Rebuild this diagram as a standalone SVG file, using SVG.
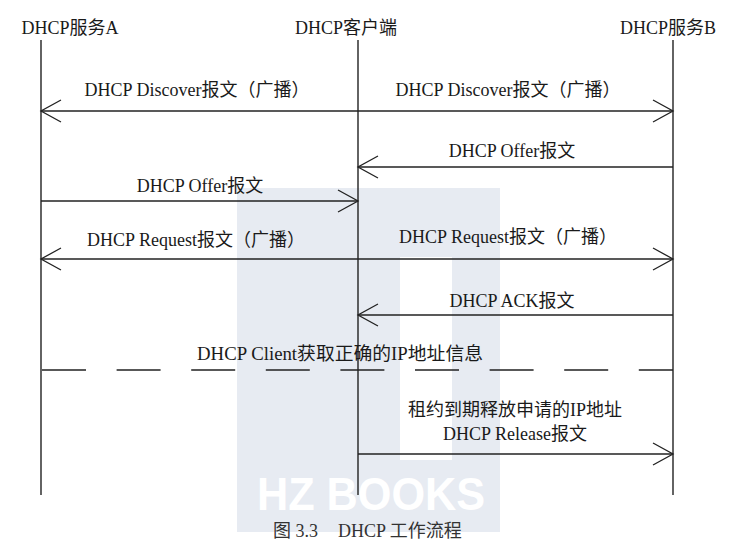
<svg xmlns="http://www.w3.org/2000/svg" width="751" height="545" viewBox="0 0 751 545">
<style>
text{font-family:"Liberation Serif","Noto Sans CJK SC",serif;font-size:18px;fill:#1a1a1a}
.life{stroke:#222;stroke-width:1.4;fill:none}
.msg{stroke:#222;stroke-width:1.3;fill:none}
.dash{stroke:#222;stroke-width:1.3;fill:none;stroke-dasharray:44 30.6}
.cap{font-size:18px;fill:#333}
.wm{fill:#e7ebf2}
.wmt{font-family:"Liberation Sans",sans-serif;font-weight:bold;font-size:46px;fill:#ffffff}
</style>
<defs>
<marker id="arr" markerUnits="userSpaceOnUse" markerWidth="24" markerHeight="26" viewBox="-22 -13 24 26" refX="0" refY="0" orient="auto-start-reverse">
<path d="M-20,-11 L0,0 L-20,11" fill="none" stroke="#222" stroke-width="1.3"/>
</marker>
</defs>
<g id="watermark">
<path class="wm" d="M237,188 H500 V532 H237 Z M400,257 V460 H452 V257 Z" fill-rule="evenodd"/>
<text class="wmt" x="257" y="510" textLength="228" lengthAdjust="spacingAndGlyphs">HZ BOOKS</text>
</g>
<g id="serverA">
<text x="70" y="34" text-anchor="middle">DHCP服务A</text>
<line class="life" x1="41" y1="40" x2="41" y2="495"/>
</g>
<g id="client">
<text x="346" y="34" text-anchor="middle">DHCP客户端</text>
<line class="life" x1="358" y1="40" x2="358" y2="495"/>
</g>
<g id="serverB">
<text x="668" y="34" text-anchor="middle">DHCP服务B</text>
<line class="life" x1="673" y1="40" x2="673" y2="495"/>
</g>
<g id="connectors">
<line class="msg" x1="41" y1="111" x2="673" y2="111" marker-start="url(#arr)" marker-end="url(#arr)"/>
<line class="msg" x1="673" y1="167" x2="358" y2="167" marker-end="url(#arr)"/>
<line class="msg" x1="41" y1="201" x2="358" y2="201" marker-end="url(#arr)"/>
<line class="msg" x1="41" y1="259" x2="673" y2="259" marker-start="url(#arr)" marker-end="url(#arr)"/>
<line class="msg" x1="673" y1="315" x2="358" y2="315" marker-end="url(#arr)"/>
<line class="dash" x1="42" y1="370" x2="673" y2="370"/>
<line class="msg" x1="358" y1="454" x2="673" y2="454" marker-end="url(#arr)"/>
</g>
<g id="labels">
<text x="197" y="96" text-anchor="middle">DHCP Discover报文（广播）</text>
<text x="508" y="96" text-anchor="middle">DHCP Discover报文（广播）</text>
<text x="512" y="157" text-anchor="middle">DHCP Offer报文</text>
<text x="200" y="192" text-anchor="middle">DHCP Offer报文</text>
<text x="196" y="246" text-anchor="middle">DHCP Request报文（广播）</text>
<text x="508" y="243" text-anchor="middle">DHCP Request报文（广播）</text>
<text x="512" y="307" text-anchor="middle">DHCP ACK报文</text>
<text x="197" y="360" textLength="286" lengthAdjust="spacingAndGlyphs">DHCP Client获取正确的IP地址信息</text>
<text x="515" y="416" text-anchor="middle">租约到期释放申请的IP地址</text>
<text x="515" y="440" text-anchor="middle">DHCP Release报文</text>
</g>
<g id="caption">
<text class="cap" x="273" y="537">图 3.3</text>
<text class="cap" x="338" y="537">DHCP 工作流程</text>
</g>
</svg>
